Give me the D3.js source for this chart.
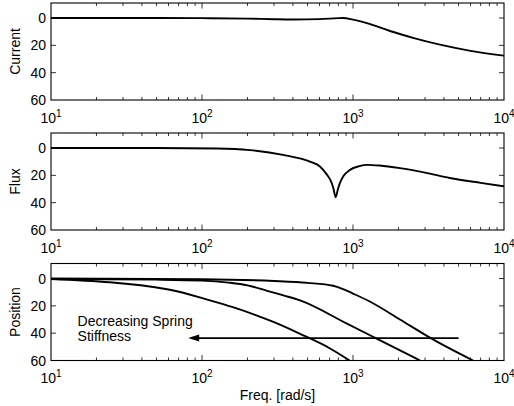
<!DOCTYPE html>
<html>
<head>
<meta charset="utf-8">
<script src="https://cdn.jsdelivr.net/npm/d3@7"></script>
<style>
  body { margin: 0; background: #fff; }
  text { font-family: "Liberation Sans", Arial, sans-serif; fill: #000; }
</style>
</head>
<body>
<svg id="chart"></svg>
<script>
const width = 514;
const height = 406;

// data (freq in rad/s, value in plot units, 0 at top)
const freqCurrent = [10, 50, 100, 200, 300, 400, 600, 800, 859, 1000, 1300, 1758, 2500, 3767, 6000, 10000];
const current = [0, 0, 0.1, 0.4, 0.9, 1.1, 0.8, 0.1, 0, 1.2, 4.5, 9.5, 14.5, 19.5, 24, 27.5];

const freqFlux = [10, 50, 126, 208, 344, 519, 604, 672, 705, 740, 767, 795, 820, 862, 955, 1100, 1240, 1500, 2047, 3000, 4370, 7000, 10000];
const flux = [0, 0, 0.3, 1.5, 5, 10, 13.5, 19.5, 23, 29, 36, 30, 25.5, 20.7, 16, 13.3, 12.3, 12.8, 14.7, 18, 21.9, 25.5, 28];

const freqPosA = [10, 60, 113, 160, 300, 446, 700, 950];
const posA = [0.3, 8, 16, 21, 32, 40.5, 51, 60];
const freqPosB = [10, 50, 100, 150, 200, 270, 350, 446, 912, 1435, 2780];
const posB = [0.3, 0.8, 1.5, 3, 5, 9, 12.5, 16, 33, 44, 60];
const freqPosC = [10, 100, 300, 500, 738, 850, 1000, 1300, 2047, 3316, 6240];
const posC = [0, 0.5, 1.8, 3.2, 5.3, 7.5, 11, 17, 30, 44, 60];

const arrowFrom = [5000, 43.6];
const arrowTo = [81, 43.6];
const noteText = ["Decreasing Spring", "Stiffness"];
const notePos = [15, 35];

const yTicks = [0, 20, 40, 60];
const xTicks = [10, 100, 1000, 10000];
const panelLabels = ["Current", "Flux", "Position"];

const margin = { left: 51, right: 10 };
const panelTops = [3, 133, 263.5];
const panelH = 97;

const svg = d3.select("#chart").attr("width", width).attr("height", height);

const x = d3.scaleLog().domain([10, 10000]).range([margin.left, width - margin.right]);

const minorTicks = [];
for (let d = 10; d < 10000; d *= 10) {
  for (let k = 2; k <= 9; k++) minorTicks.push(d * k);
}

function zip(fs, vs) {
  return fs.map((f, i) => [f, vs[i]]);
}

function drawPanel(i, seriesList) {
  const top = panelTops[i];
  const y = d3.scaleLinear().domain([-11, 60]).range([top, top + panelH]);
  const g = svg.append("g");
  const x0 = x.range()[0], x1 = x.range()[1];

  const clipId = "clip" + i;
  svg.append("clipPath").attr("id", clipId)
    .append("rect").attr("x", x0).attr("y", top).attr("width", x1 - x0).attr("height", panelH);

  const line = d3.line()
    .x(d => x(d[0]))
    .y(d => y(d[1]))
    .curve(d3.curveMonotoneX);

  g.append("g").attr("clip-path", `url(#${clipId})`)
    .selectAll("path")
    .data(seriesList)
    .enter()
    .append("path")
    .attr("d", line)
    .attr("fill", "none")
    .attr("stroke", "#000")
    .attr("stroke-width", 1.9)
    .attr("stroke-linejoin", "round");

  // frame
  g.append("rect")
    .attr("x", x0).attr("y", top)
    .attr("width", x1 - x0).attr("height", panelH)
    .attr("fill", "none").attr("stroke", "#000").attr("stroke-width", 1.1);

  // x ticks, inside, top and bottom
  const ticks = g.append("g").attr("stroke", "#000").attr("stroke-width", 0.8);
  [[top, 1], [top + panelH, -1]].forEach(([yy, dir]) => {
    ticks.selectAll(null).data(minorTicks).enter().append("line")
      .attr("x1", d => x(d)).attr("x2", d => x(d))
      .attr("y1", yy).attr("y2", yy + dir * 3);
    ticks.selectAll(null).data(xTicks.slice(1, -1)).enter().append("line")
      .attr("x1", d => x(d)).attr("x2", d => x(d))
      .attr("y1", yy).attr("y2", yy + dir * 5.5);
  });
  // y ticks, inside, left and right
  [[x0, 1], [x1, -1]].forEach(([xx, dir]) => {
    ticks.selectAll(null).data(yTicks.slice(0, -1)).enter().append("line")
      .attr("x1", xx).attr("x2", xx + dir * 5)
      .attr("y1", d => y(d)).attr("y2", d => y(d));
  });

  // y tick labels
  g.selectAll(null).data(yTicks).enter().append("text")
    .attr("x", x0 - 5)
    .attr("y", d => y(d) + 5)
    .attr("text-anchor", "end")
    .attr("font-size", 14)
    .text(d => d);

  // x tick labels 10^n
  const xl = g.selectAll(null).data(xTicks).enter().append("text")
    .attr("x", d => x(d))
    .attr("y", top + panelH + 22.5)
    .attr("text-anchor", "middle")
    .attr("font-size", 14);
  xl.append("tspan").text("10");
  xl.append("tspan").attr("dy", -6).attr("font-size", 10).text(d => Math.round(Math.log10(d)));

  // panel label
  g.append("text")
    .attr("transform", `translate(20,${top + panelH / 2}) rotate(-90)`)
    .attr("text-anchor", "middle")
    .attr("font-size", 14)
    .text(panelLabels[i]);

  return y;
}

drawPanel(0, [zip(freqCurrent, current)]);
drawPanel(1, [zip(freqFlux, flux)]);
const y3 = drawPanel(2, [zip(freqPosA, posA), zip(freqPosB, posB), zip(freqPosC, posC)]);

// arrow
const ax1 = x(arrowFrom[0]), ax2 = x(arrowTo[0]), ay = y3(arrowFrom[1]);
svg.append("line")
  .attr("x1", ax1).attr("x2", ax2 + 8)
  .attr("y1", ay).attr("y2", ay)
  .attr("stroke", "#000").attr("stroke-width", 1.9);
svg.append("path")
  .attr("d", `M${ax2},${ay} L${ax2 + 11},${ay - 3.5} L${ax2 + 11},${ay + 3.5} Z`)
  .attr("fill", "#000");

// annotation
const note = svg.append("text")
  .attr("x", x(notePos[0]))
  .attr("y", y3(notePos[1]))
  .attr("font-size", 14);
note.selectAll("tspan").data(noteText).enter().append("tspan")
  .attr("x", x(notePos[0]))
  .attr("dy", (d, i) => i === 0 ? 0 : 15)
  .text(d => d);

// x label
svg.append("text")
  .attr("x", (x.range()[0] + x.range()[1]) / 2)
  .attr("y", 400)
  .attr("text-anchor", "middle")
  .attr("font-size", 14)
  .text("Freq. [rad/s]");
</script>
</body>
</html>
